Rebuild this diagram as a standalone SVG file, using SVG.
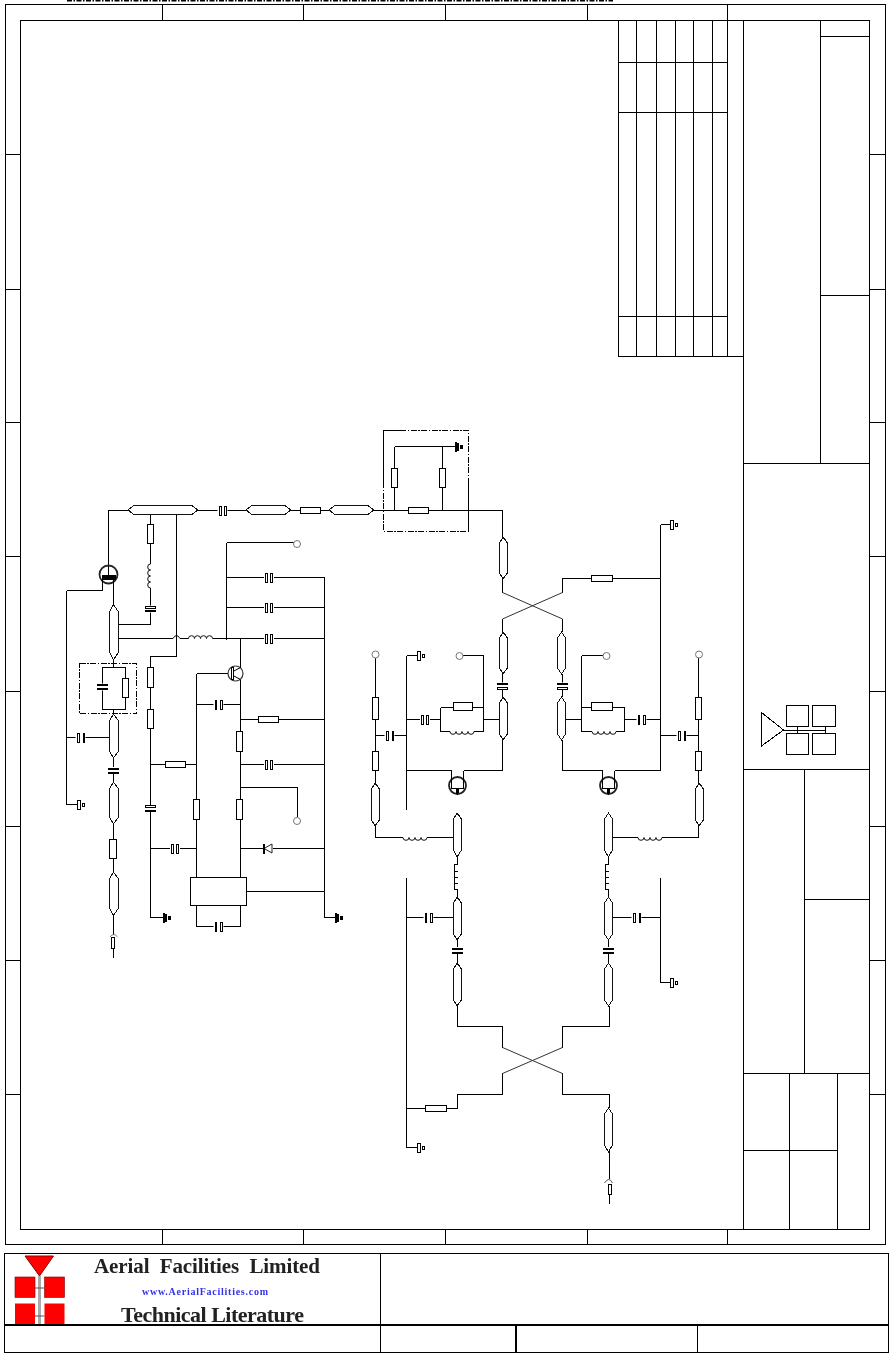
<svg xmlns="http://www.w3.org/2000/svg" width="890" height="1353" viewBox="0 0 890 1353">
<style>
.w{fill:none;stroke:#000;stroke-width:1;shape-rendering:crispEdges}
.b{fill:#fff;stroke:#000;stroke-width:1;shape-rendering:crispEdges}
.h{fill:#fff;stroke:#111;stroke-width:1;shape-rendering:crispEdges}
.k{fill:#000;stroke:none;shape-rendering:crispEdges}
.t{fill:#fff;stroke:#777;stroke-width:1}
.d{fill:none;stroke:#000;stroke-width:1;stroke-dasharray:6 1.5 1.5 1.5;shape-rendering:crispEdges}
.lg{font-family:"Liberation Serif","Times New Roman",serif;font-weight:bold}
</style>
<defs>
<filter id="soft" x="-5%" y="-20%" width="110%" height="140%"><feGaussianBlur stdDeviation="0.45"/></filter>
<g id="cap"><rect x="-5" y="-5" width="10" height="10" fill="#fff"/><rect class="b" x="-3.500" y="-4.500" width="2" height="9"/><rect class="b" x="1.500" y="-4.500" width="2" height="9"/></g>
<g id="capL"><rect x="-5" y="-5" width="10" height="10" fill="#fff"/><rect class="k" x="-4" y="-5" width="2" height="10"/><rect class="b" x="1.500" y="-4.500" width="2" height="9"/></g>
<g id="capR"><rect x="-5" y="-5" width="10" height="10" fill="#fff"/><rect class="b" x="-3.500" y="-4.500" width="2" height="9"/><rect class="k" x="2" y="-5" width="2" height="10"/></g>
<g id="capT"><rect x="-5" y="-3.500" width="10" height="7" fill="#fff"/><rect class="k" x="-5.500" y="-3" width="11" height="2"/><rect class="b" x="-5" y="1" width="10" height="2"/></g>
<g id="capB"><rect x="-5" y="-3.500" width="10" height="7" fill="#fff"/><rect class="b" x="-5" y="-3" width="10" height="2"/><rect class="k" x="-5.500" y="1" width="11" height="2"/></g>
<g id="capK"><rect x="-5" y="-3.500" width="10" height="7" fill="#fff"/><rect class="k" x="-5.500" y="-3" width="11" height="2"/><rect class="k" x="-5.500" y="1" width="11" height="2"/></g>
<g id="gnd"><rect class="b" x="0.500" y="-4.500" width="3" height="9"/><rect class="k" x="0" y="-5" width="1" height="10"/><rect class="b" x="5.500" y="-1.500" width="2" height="3"/></g>
<g id="gndK"><rect class="k" x="0" y="-5" width="2" height="10"/><rect class="k" x="2" y="-4" width="2" height="8"/><rect class="k" x="5" y="-2" width="3" height="4"/></g>
<g id="ind"><path d="M-12 0H12" stroke="#fff" stroke-width="1.500" fill="none"/><path d="M-12 0a3 2.800 0 0 0 6 0a3 2.800 0 0 0 6 0a3 2.800 0 0 0 6 0a3 2.800 0 0 0 6 0" fill="none" stroke="#111" stroke-width="1"/></g>
<g id="npn"><circle r="8.500" fill="#fff" stroke="#222" stroke-width="1.800"/><path class="w" d="M-6 -15V2.500H6V-15M0 2.500V9"/><path class="k" d="M-1.500 3h3l-.5 5h-2z"/></g>
</defs>

<g id="top-strip"><path d="M67 0.500H613" stroke="#000" stroke-width="2" fill="none" stroke-dasharray="5 1.500 1.500 1.500"/></g>

<g id="frame">
<rect class="w" x="5.500" y="4.500" width="880" height="1240"/>
<rect class="w" x="20.500" y="20.500" width="849" height="1209"/>
<path class="w" d="M162.500 4.500V20.500M303.500 4.500V20.500M445.500 4.500V20.500M587.500 4.500V20.500M727.500 4.500V20.500M162.500 1229.500V1244.500M303.500 1229.500V1244.500M445.500 1229.500V1244.500M587.500 1229.500V1244.500M727.500 1229.500V1244.500"/>
<path class="w" d="M5.500 154.500H20.500M5.500 289.500H20.500M5.500 422.500H20.500M5.500 556.500H20.500M5.500 691.500H20.500M5.500 826.500H20.500M5.500 960.500H20.500M5.500 1094.500H20.500M869.500 154.500H885.500M869.500 289.500H885.500M869.500 422.500H885.500M869.500 556.500H885.500M869.500 691.500H885.500M869.500 826.500H885.500M869.500 960.500H885.500M869.500 1094.500H885.500"/>
</g>

<g id="revision-table">
<path class="w" d="M618.500 20.500V356.500M636.500 20.500V356.500M656.500 20.500V356.500M675.500 20.500V356.500M693.500 20.500V356.500M712.500 20.500V356.500M727.500 20.500V356.500M618.500 62.500H727.500M618.500 112.500H727.500M618.500 316.500H727.500M618.500 356.500H743.500"/>
</g>

<g id="title-block">
<path class="w" d="M743.500 20.500V1229.500M820.500 20.500V463.500M820.500 36.500H869.500M820.500 295.500H869.500M743.500 463.500H869.500M743.500 769.500H869.500M743.500 1073.500H869.500M804.500 769.500V1073.500M804.500 899.500H869.500M789.500 1073.500V1229.500M837.500 1073.500V1229.500M743.500 1150.500H837.500"/>
</g>

<g id="amp-icon">
<path class="b" d="M761.500 712.500L783.500 730L761.500 746Z"/>
<rect class="b" x="786.500" y="705.500" width="22" height="21"/>
<rect class="b" x="812.500" y="705.500" width="23" height="21"/>
<rect class="b" x="786.500" y="733.500" width="22" height="21"/>
<rect class="b" x="812.500" y="733.500" width="23" height="21"/>
<path class="w" d="M783.500 730.500H825.500M797.500 726.500V733.500M825.500 726.500V733.500"/>
</g>

<g id="footer">
<rect class="w" x="4.500" y="1253.500" width="884" height="99"/>
<path class="w" d="M380.500 1253.500V1352.500M697.500 1325V1352.500"/>
<rect class="k" x="4" y="1324" width="885" height="2"/>
<rect class="k" x="515" y="1325" width="2" height="28"/>
</g>

<g id="logo" filter="url(#soft)">
<path d="M25 1256H53.500L39.500 1276Z" fill="#f00" stroke="#800" stroke-width="1"/>
<rect x="15" y="1277" width="20" height="20.500" fill="#f00" stroke="#800" stroke-width=".6"/>
<rect x="44.500" y="1277" width="20" height="20.500" fill="#f00" stroke="#800" stroke-width=".6"/>
<rect x="15" y="1303.500" width="20" height="20.500" fill="#f00"/>
<rect x="44.500" y="1303.500" width="20" height="20.500" fill="#f00"/>
<path d="M39.500 1276V1324" stroke="#aaa" stroke-width="3" fill="none"/>
<path d="M35 1288H44.500M35 1316H44.500" stroke="#555" stroke-width="1" fill="none"/>
<text class="lg" x="94" y="1273" font-size="21" fill="#222" textLength="226" lengthAdjust="spacing" xml:space="preserve">Aerial  Facilities  Limited</text>
<text class="lg" x="142" y="1295" font-size="10" fill="#33e" textLength="126">www.AerialFacilities.com</text>
<text class="lg" x="121" y="1322" font-size="22" fill="#222" textLength="183">Technical Literature</text>
</g>

<g id="connectors">
<path class="w" d="M108.500 566V510.500H128M197 510.500H246M290 510.500H330M373 510.500H502.500V537M150.500 510.500V624.500H118M176.500 510.500V656.500H150.500V917.500H163M113.500 582V605M66.500 590.500H102.500V582M66.500 590.500V804.500H77M66.500 737.500H109"/>
<path class="w" d="M118 638.500H173M180 638.500H324.500M226.500 542.500H293.500M226.500 542.500V640M226.500 577.500H324.500M226.500 607.500H324.500M324.500 577.500V917.500H335"/>
<path class="w" d="M240.500 638.500V668M240.500 680V877M240.500 719.500H324.500M240.500 764.500H324.500M240.500 787.500H297.500V817M240.500 848.500H324.500M246.500 891.500H324.500M196.500 673.500H231M196.500 673.500V877M196.500 704.500H240.500M150.500 764.500H196.500M150.500 848.500H196.500M196.500 905V926.500H240.500V905"/>
<path class="w" d="M113.500 660V667.500M102.500 667.500H125.500V709.500H102.500ZM113.500 709.500V714M113.500 758V782M113.500 824V872M113.500 915V935M113.500 948V958"/>
<path class="w" d="M394.500 446.500H455M394.500 446.500V510.500M442.500 446.500V510.500M502.500 579V592.500"/>
<path class="w" d="M562.500 592.500V578.500H660.500M660.500 524.500H670M660.500 524.500V770.500H614.500M502.500 619V632M562.500 619V632"/>
<path class="w" d="M502.500 674V697M502.500 740V770.500H463.500M451.500 770.500H406.500M406.500 655.500V810M406.500 655.500H417M406.500 719.500H440.500M440.500 707.500H483.500M440.500 707.500V731.500H483.500V655.500H463M483.500 719.500H499M375.500 658V783M375.500 735.500H406.500M375.500 826V837.500H453"/>
<path class="w" d="M457.500 857V864H454.500V889.500H457.500V897M454.500 871.500H458M454.500 877.500H458M454.500 883.500H458M457.500 940V963M457.500 1006V1026.500H502.500V1048M406.500 878V1147.500H417M406.500 917.500H453M406.500 1108.500H457.500V1094.500H502.500V1073"/>
<path class="w" d="M562.500 674V697M562.500 740V770.500H602.500M581.500 655.500H603M581.500 655.500V731.500H624.500V707.500H581.500M565 719.500H581.500M624.500 719.500H660.500M660.500 735.500H698.500M698.500 658V783M698.500 826V837.500H613"/>
<path class="w" d="M608.500 857V864H605.500V889.500H608.500V897M605.500 871.500H609M605.500 877.500H609M605.500 883.500H609M608.500 940V963M609.500 1006V1026.500H562.500V1048M613 917.500H660.500M660.500 878V982.500H670M562.500 1073V1094.500H609.500V1108M609.500 1151V1179M609.500 1194V1204"/>
<path d="M502.500 592.500L562.500 619M562.500 592.500L502.500 619M502.500 1047.500L562.500 1073.500M562.500 1047.500L502.500 1073.500" fill="none" stroke="#333" stroke-width="1"/>
<path d="M173 638.500q3.500 -6 7 0" fill="none" stroke="#000" stroke-width="1"/>
</g>

<g id="tl1"><path class="h" d="M128 510L134 505.500H192L198 510L192 514.500H134Z"/></g>
<g id="tl2"><path class="h" d="M246 510L252 505.500H285L291 510L285 514.500H252Z"/></g>
<g id="tl3"><path class="h" d="M329 510L335 505.500H368L374 510L368 514.500H335Z"/></g>
<g id="tl4"><path class="h" d="M113.500 604.500L118.500 612V652L113.500 660L109.500 652V612Z"/></g>
<g id="tl5"><path class="h" d="M113.500 714L118.500 721V751L113.500 758L109.500 751V721Z"/></g>
<g id="tl6"><path class="h" d="M113.500 782L118.500 789V817L113.500 824L109.500 817V789Z"/></g>
<g id="tl7"><path class="h" d="M113.500 872L118.500 879V908L113.500 915.500L109.500 908V879Z"/></g>
<g id="tl8"><path class="h" d="M503 537L507.500 543V573L503 579L499.500 573V543Z"/></g>
<g id="tl9"><path class="h" d="M503 632L507.500 638V668L503 674L499.500 668V638Z"/></g>
<g id="tl10"><path class="h" d="M503 697L507.500 703V734L503 740L499.500 734V703Z"/></g>
<g id="tl11"><path class="h" d="M561.500 632L565.500 638V668L561.500 674L557.500 668V638Z"/></g>
<g id="tl12"><path class="h" d="M561.500 697L565.500 703V734L561.500 740L557.500 734V703Z"/></g>
<g id="tl13"><path class="h" d="M375 783L379.500 789V820L375 826L371.500 820V789Z"/></g>
<g id="tl14"><path class="h" d="M457 813L461.500 819V850L457 857L453.500 850V819Z"/></g>
<g id="tl15"><path class="h" d="M457 897L461.500 903V934L457 940L453.500 934V903Z"/></g>
<g id="tl16"><path class="h" d="M457 963L461.500 969V1000L457 1006L453.500 1000V969Z"/></g>
<g id="tl17"><path class="h" d="M699 783L703.500 789V820L699 826L695.500 820V789Z"/></g>
<g id="tl18"><path class="h" d="M608.500 813L612.500 819V850L608.500 857L604.500 850V819Z"/></g>
<g id="tl19"><path class="h" d="M608.500 897L612.500 903V934L608.500 940L604.500 934V903Z"/></g>
<g id="tl20"><path class="h" d="M608.500 963L612.500 969V1000L608.500 1006L604.500 1000V969Z"/></g>
<g id="tl21"><path class="h" d="M608.500 1108L612.500 1114V1145L608.500 1152L604.500 1145V1114Z"/></g>

<g id="r1"><rect class="b" x="300.500" y="507.500" width="20" height="6"/></g>
<g id="r2"><rect class="b" x="147.500" y="524.500" width="6" height="19"/></g>
<g id="r3"><rect class="b" x="147.500" y="667.500" width="6" height="20"/></g>
<g id="r4"><rect class="b" x="147.500" y="709.500" width="6" height="19"/></g>
<g id="r5"><rect class="b" x="165.500" y="761.500" width="20" height="6"/></g>
<g id="r6"><rect class="b" x="122.500" y="678.500" width="6" height="19"/></g>
<g id="r7"><rect class="b" x="109.500" y="839.500" width="7" height="19"/></g>
<g id="r8"><rect class="b" x="111.500" y="937.500" width="3" height="11"/></g>
<g id="r9"><rect class="b" x="236.500" y="731.500" width="6" height="20"/></g>
<g id="r10"><rect class="b" x="258.500" y="716.500" width="20" height="6"/></g>
<g id="r11"><rect class="b" x="193.500" y="799.500" width="6" height="20"/></g>
<g id="r12"><rect class="b" x="236.500" y="799.500" width="6" height="20"/></g>
<g id="r13"><rect class="b" x="391.500" y="468.500" width="6" height="19"/></g>
<g id="r14"><rect class="b" x="439.500" y="468.500" width="6" height="19"/></g>
<g id="r15"><rect class="b" x="408.500" y="507.500" width="20" height="6"/></g>
<g id="r16"><rect class="b" x="591.500" y="575.500" width="21" height="6"/></g>
<g id="r17"><rect class="b" x="372.500" y="697.500" width="6" height="22"/></g>
<g id="r18"><rect class="b" x="372.500" y="751.500" width="6" height="19"/></g>
<g id="r19"><rect class="b" x="453.500" y="702.500" width="19" height="8"/></g>
<g id="r20"><rect class="b" x="591.500" y="702.500" width="21" height="8"/></g>
<g id="r21"><rect class="b" x="695.500" y="697.500" width="6" height="22"/></g>
<g id="r22"><rect class="b" x="695.500" y="751.500" width="6" height="19"/></g>
<g id="r23"><rect class="b" x="425.500" y="1105.500" width="21" height="6"/></g>
<g id="r24"><rect class="b" x="608.500" y="1184.500" width="3" height="10"/></g>

<use id="c1" href="#cap" x="222.500" y="510.500"/>
<use id="c2" href="#capR" x="80.500" y="737.500"/>
<use id="c3" href="#cap" x="269" y="577.500"/>
<use id="c4" href="#cap" x="269" y="607.500"/>
<use id="c5" href="#cap" x="269" y="638.500"/>
<use id="c6" href="#capL" x="218.500" y="704.500"/>
<use id="c7" href="#cap" x="269" y="764.500"/>
<use id="c8" href="#cap" x="175" y="848.500"/>
<use id="c9" href="#capL" x="218.500" y="926.500"/>
<use id="c10" href="#capR" x="389.500" y="735.500"/>
<use id="c11" href="#cap" x="425" y="719.500"/>
<use id="c12" href="#capL" x="641.500" y="719.500"/>
<use id="c13" href="#capR" x="681.500" y="735.500"/>
<use id="c14" href="#capL" x="428.500" y="917.500"/>
<use id="c15" href="#capR" x="636.500" y="917.500"/>
<use id="c16" href="#capB" x="150.500" y="609"/>
<use id="c17" href="#capB" x="150.500" y="808.500"/>
<use id="c18" href="#capK" x="113.500" y="770.500"/>
<use id="c19" href="#capK" x="102.500" y="687"/>
<use id="c20" href="#capT" x="502.500" y="686"/>
<use id="c21" href="#capT" x="562.500" y="686"/>
<use id="c22" href="#capK" x="457.500" y="950.500"/>
<use id="c23" href="#capK" x="608.500" y="950.500"/>

<g id="l1" transform="translate(200.500 638.500) scale(1 -1)"><use href="#ind"/></g>
<g id="l2" transform="translate(150.500 576) rotate(90)"><use href="#ind"/></g>
<use id="l3" href="#ind" x="462" y="731.500"/>
<use id="l4" href="#ind" x="604" y="731.500"/>
<use id="l5" href="#ind" x="415" y="837.500"/>
<use id="l6" href="#ind" x="650" y="837.500"/>

<use id="g1" href="#gnd" x="77" y="804.500"/>
<use id="g2" href="#gndK" x="162.500" y="917.500"/>
<use id="g3" href="#gndK" x="335" y="917.500"/>
<use id="g4" href="#gndK" x="454.500" y="447"/>
<use id="g5" href="#gnd" x="670" y="524.500"/>
<use id="g6" href="#gnd" x="417" y="655.500"/>
<use id="g7" href="#gnd" x="417" y="1147.500"/>
<use id="g8" href="#gnd" x="670" y="982.500"/>

<circle id="p1" class="t" cx="297" cy="544" r="3.500"/>
<circle id="p2" class="t" cx="297" cy="821" r="3.500"/>
<circle id="p3" class="t" cx="375.500" cy="654.500" r="3.500"/>
<circle id="p4" class="t" cx="459.500" cy="656" r="3.500"/>
<circle id="p5" class="t" cx="606.500" cy="656" r="3.500"/>
<circle id="p6" class="t" cx="699" cy="654.500" r="3.500"/>

<g id="q1" transform="translate(108.500 574.500)"><circle r="9" fill="#fff" stroke="#222" stroke-width="1.800"/><path class="w" d="M0 -9V0M-6 5V9M5 5V9"/><rect class="k" x="-7" y="0" width="14" height="5"/></g>
<g id="q2" transform="translate(235.500 673.500)"><circle r="7.500" fill="#fff" stroke="#333" stroke-width="1.200"/><rect class="b" x="-4.500" y="-6" width="2" height="12"/><path d="M-2.500 -2L5 -6M-2.500 2L5 6" stroke="#000" fill="none"/></g>
<use id="q3" href="#npn" x="457.500" y="785.500"/>
<use id="q4" href="#npn" x="608.500" y="785.500"/>

<g id="d1" transform="translate(268 848.500)"><rect x="-5" y="-5" width="10" height="10" fill="#fff"/><path d="M-4 0L4 -4.500V4.500Z" fill="#fff" stroke="#222"/><rect class="k" x="-5" y="-5" width="2" height="10"/></g>

<g id="ant1"><path d="M110 937q3.500 -5 7.500 0" fill="none" stroke="#777"/></g>
<g id="ant2"><path d="M604.500 1183q4.500 -7 8 0" fill="none" stroke="#555"/></g>

<g id="u1"><rect class="b" x="190.500" y="877.500" width="56" height="28"/></g>

<g id="box1">
<rect class="d" x="79.500" y="663.500" width="57" height="50"/>
</g>
<g id="box2">
<path class="d" d="M383.500 482V531.500H468.500V482M400 430.500H468.500V482"/>
<path class="w" d="M400 430.500H383.500V482M468.500 482V531.500"/>
</g>
</svg>
